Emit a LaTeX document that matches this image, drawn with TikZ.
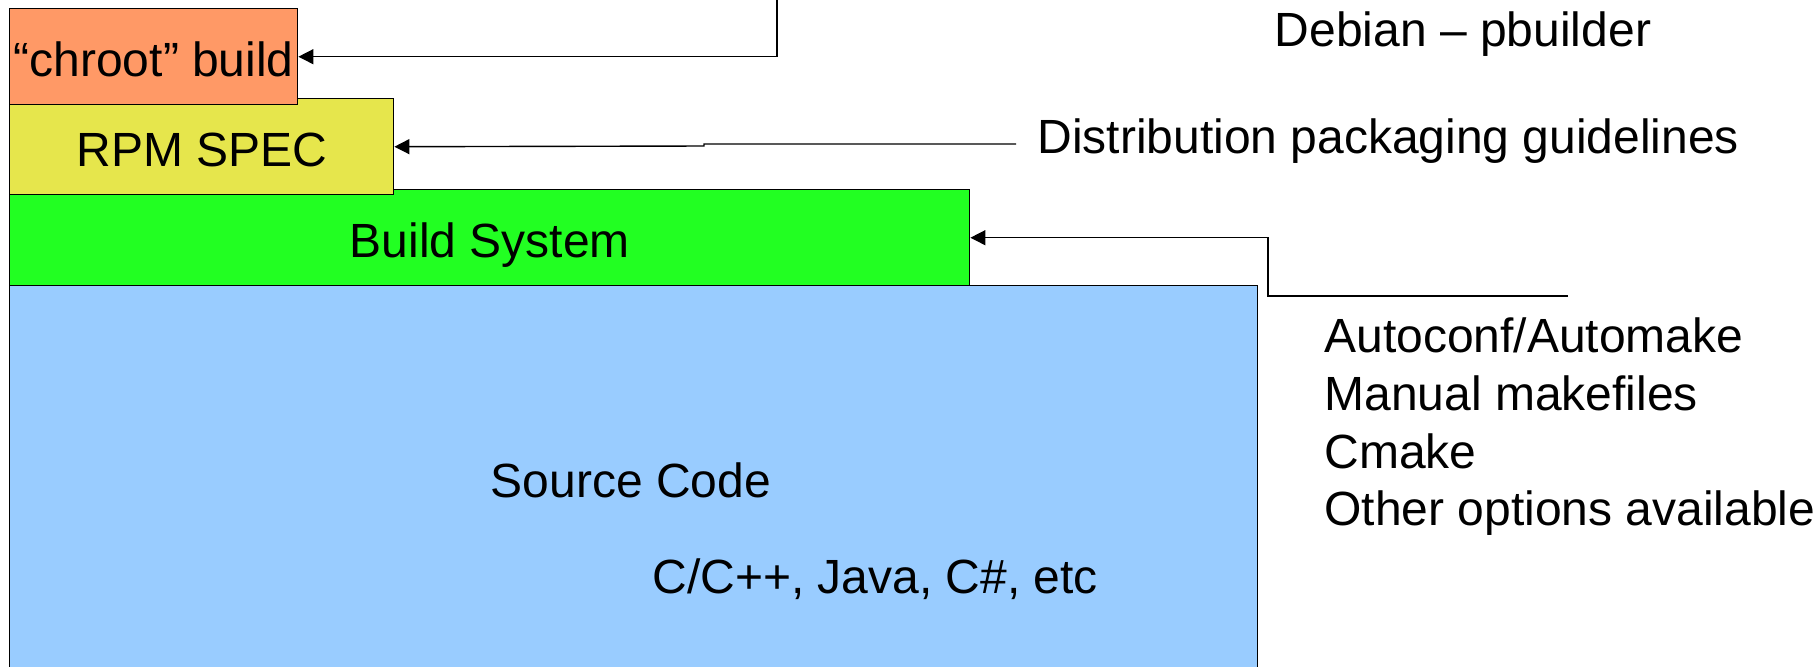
\documentclass[tikz,border=0pt]{standalone}
\usepackage{fontspec}
\setmainfont{Liberation Sans}
\usetikzlibrary{arrows.meta}
\definecolor{chrootc}{HTML}{FF9966}
\definecolor{rpmc}{HTML}{E6E64C}
\definecolor{buildc}{HTML}{22FF22}
\definecolor{srcc}{HTML}{99CCFF}
\begin{document}
\begin{tikzpicture}[x=0.5pt,y=-0.5pt,
  txt/.style={inner sep=0pt, font=\fontsize{24}{28.85}\selectfont},
  layer/.style={txt, draw=black, line width=0.7pt, anchor=north west,
    minimum height=48pt, text height=20pt, text depth=0pt},
  conn/.style={draw=black, line width=0.7pt, -{Triangle[length=7.5pt,width=7.5pt]}}]
\path[use as bounding box] (0,0) rectangle (1820,666);
\clip (0,0) rectangle (1820,666);
% layered boxes (bottom to top)
\node[layer, fill=srcc, minimum width=624pt, minimum height=210pt] (src) at (9,285) {};
\node[layer, fill=buildc, minimum width=480pt] (build) at (9,189) {Build System};
\node[layer, fill=rpmc, minimum width=192pt] (rpm) at (9,98) {RPM SPEC};
\node[layer, fill=chrootc, minimum width=144pt] (chroot) at (9,8) {“chroot” build};
% texts in source box
\node[txt, anchor=base] (srclbl) at (631,497) {Source Code};
\node[txt, anchor=base west] (langs) at (652,593) {C/C++, Java, C\#, etc};
% right-hand texts
\node[txt, anchor=base] (debian) at (1463,46) {Debian – pbuilder};
\node[txt, anchor=base west, inner xsep=10.5pt] (dist) at (1016,153) {Distribution packaging guidelines};
\node[txt, anchor=base west] (opt1) at (1324,352) {Autoconf/Automake};
\node[txt, anchor=base west] (opt2) at (1324,410) {Manual makefiles};
\node[txt, anchor=base west] (opt3) at (1324,468) {Cmake};
\node[txt, anchor=base west] (opt4) at (1324,525) {Other options available};
% connectors
\coordinate (topend) at (777,-10);
\coordinate (bsend) at (1568,296);
\draw[conn] (topend) |- (chroot.east);
\draw[conn] ([yshift=4.5pt]dist.base west) -- (704,144) -- (704,146) -- (rpm.east);
\draw[conn] (bsend) -- (1268,296) |- (build.east);
\end{tikzpicture}
\end{document}
